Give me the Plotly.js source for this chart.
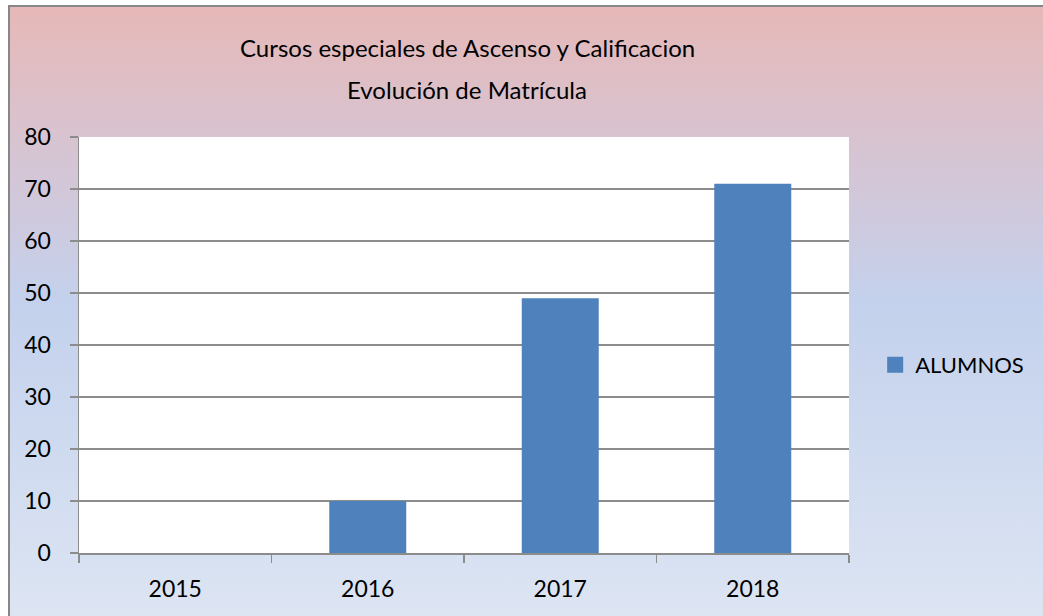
<!DOCTYPE html>
<html>
<head>
<meta charset="utf-8">
<script src="https://cdn.plot.ly/plotly-3.0.1.min.js"></script>
<style>
  html, body { margin:0; padding:0; background:#ffffff; width:1043px; height:616px; overflow:hidden; }
  #frame { position:absolute; left:8px; top:5px; width:1100px; height:615px;
    border:2px solid #878787; box-sizing:border-box;
    background: linear-gradient(to bottom, #E6B8B7 0%, #D9C3CF 20%, #CFC9DD 34%, #C4D1EC 48%, #CDD9EF 69%, #DDE5F3 100%); }
  #chart { position:absolute; left:0; top:0; width:1043px; height:616px; }
</style>
</head>
<body>
<div id="frame"></div>
<div id="chart"></div>
<script>
const years = ['2015', '2016', '2017', '2018'];
const alumnos = [0, 10, 49, 71];
const seriesName = 'ALUMNOS';
const yTicks = [0, 10, 20, 30, 40, 50, 60, 70, 80];
const titleLines = ['Cursos especiales de Ascenso y Calificacion', 'Evolución de Matrícula'];

const FONT = 'Lato, "Open Sans", sans-serif';
const BAR_COLOR = '#4F81BD';

const barTrace = {
  type: 'bar',
  x: years,
  y: alumnos,
  name: seriesName,
  marker: { color: BAR_COLOR, line: { width: 0 } },
  showlegend: false
};

// legend-only entry with a larger square swatch
const legendTrace = {
  type: 'scatter',
  mode: 'markers',
  x: [null],
  y: [null],
  name: seriesName,
  marker: { symbol: 'square', color: BAR_COLOR, size: 16 },
  showlegend: true,
  hoverinfo: 'skip'
};

const layout = {
  width: 1043,
  height: 616,
  paper_bgcolor: 'rgba(0,0,0,0)',
  plot_bgcolor: '#ffffff',
  margin: { l: 79, r: 194, t: 137, b: 63 },
  bargap: 0.6,
  font: { family: FONT, color: '#000000', size: 23 },
  annotations: [
    { text: titleLines[0], xref: 'paper', yref: 'paper', x: 0.504, y: 1.214,
      xanchor: 'center', yanchor: 'middle', showarrow: false,
      font: { family: FONT, size: 24, color: '#000' } },
    { text: titleLines[1], xref: 'paper', yref: 'paper', x: 0.504, y: 1.113,
      xanchor: 'center', yanchor: 'middle', showarrow: false,
      font: { family: FONT, size: 24, color: '#000' } }
  ],
  xaxis: {
    type: 'category',
    showline: true, linecolor: '#8C8C8C', linewidth: 1.5,
    ticks: 'outside', ticklen: 8, tickcolor: '#8C8C8C', tickwidth: 1.5,
    tickson: 'boundaries',
    showgrid: false,
    tickfont: { family: FONT, size: 23, color: '#000' },
    ticklabelstandoff: 15,
    zeroline: false
  },
  yaxis: {
    range: [0, 80],
    tickvals: yTicks,
    ticktext: yTicks.map(String),
    showline: true, linecolor: '#8C8C8C', linewidth: 1.5,
    ticks: 'outside', ticklen: 8, tickcolor: '#8C8C8C', tickwidth: 1.5,
    showgrid: true, gridcolor: '#8C8C8C', gridwidth: 1.3,
    zeroline: false,
    tickfont: { family: FONT, size: 23, color: '#000' },
    ticklabelstandoff: 14
  },
  legend: {
    x: 1.034, xanchor: 'left',
    y: 0.452, yanchor: 'middle',
    bgcolor: 'rgba(0,0,0,0)',
    font: { family: FONT, size: 22, color: '#000' },
    itemwidth: 30
  }
};

Plotly.newPlot('chart', [barTrace, legendTrace], layout, { displayModeBar: false, staticPlot: true });
</script>
</body>
</html>
